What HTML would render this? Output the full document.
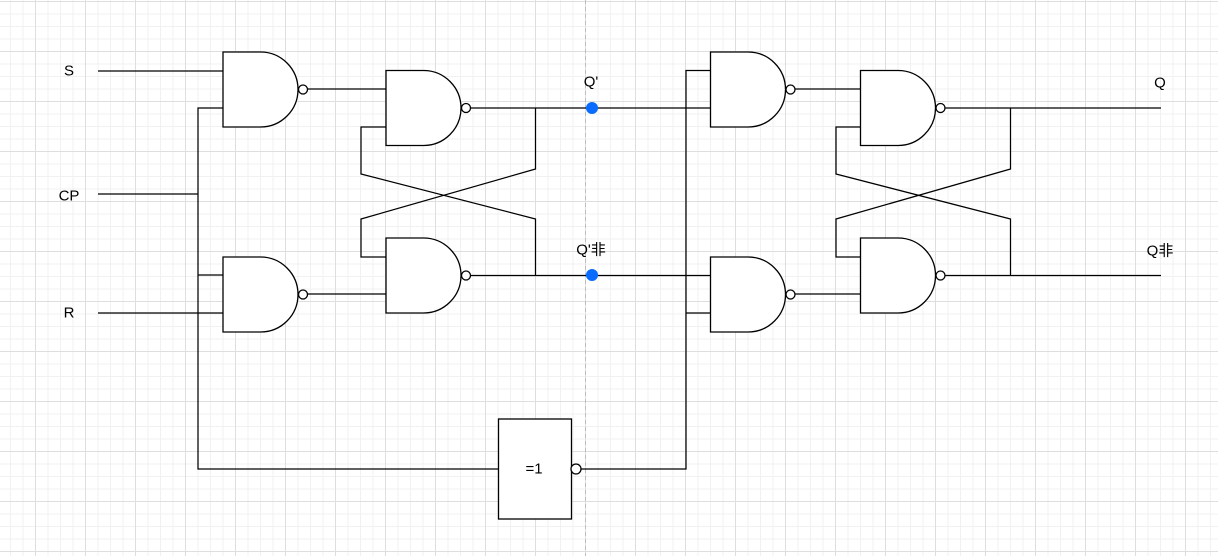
<!DOCTYPE html>
<html><head><meta charset="utf-8"><style>
html,body{margin:0;padding:0;background:#fff;width:1218px;height:556px;overflow:hidden}
svg{display:block}
text{font-family:"Liberation Sans","Noto Sans CJK SC",sans-serif;font-size:15px;fill:#000;text-anchor:middle;dominant-baseline:central}
.w{fill:none;stroke:#000;stroke-width:1.25}
.g{fill:#fff;stroke:#000;stroke-width:1.3}
</style></head><body>
<svg width="1218" height="556" viewBox="0 0 1218 556" xmlns="http://www.w3.org/2000/svg">
<defs>
<pattern id="minor" x="-2.5" y="1" width="12.5" height="12.5" patternUnits="userSpaceOnUse"><path d="M0.5 0V12.5M0 0.5H12.5" fill="none" stroke="#f1f1f1" stroke-width="1"/></pattern>
<pattern id="major" x="35" y="1" width="50" height="50" patternUnits="userSpaceOnUse"><path d="M0.5 0V50M0 0.5H50" fill="none" stroke="#dedede" stroke-width="1"/></pattern>
<g id="nand"><path class="g" d="M0 0H37.5A37.5 37.5 0 0 1 37.5 75H0Z"/><circle class="g" cx="80" cy="37.5" r="4.5"/></g>
</defs>
<rect width="1218" height="556" fill="#fff"/>
<rect width="1218" height="556" fill="url(#minor)"/>
<rect width="1218" height="556" fill="url(#major)"/>
<line x1="585.5" y1="0" x2="585.5" y2="556" stroke="#bdbdbd" stroke-width="1" stroke-dasharray="4 3"/>
<path class="w" d="M98 71H223M98 194H198M98 313H223"/>
<path class="w" d="M223 108H198V469H498M198 275H223"/>
<path class="w" d="M307 89H386M307 294H386"/>
<path class="w" d="M466 108H711M466 275.500H711"/>
<path class="w" d="M386 257H361V219L535.500 169V108M386 127H361V174L535.500 219V275.500"/>
<path class="w" d="M581 469H686V70.500H711M686 313H711"/>
<path class="w" d="M794 89H861M794 294H861"/>
<path class="w" d="M941 108H1161M941 275.500H1161"/>
<path class="w" d="M861 257H836V219L1010.500 169V108M861 127H836V174L1010.500 219V275.500"/>
<use href="#nand" x="223" y="52"/>
<use href="#nand" x="386" y="70.500"/>
<use href="#nand" x="223" y="257"/>
<use href="#nand" x="386" y="238"/>
<use href="#nand" x="710.500" y="52"/>
<use href="#nand" x="860.500" y="70.500"/>
<use href="#nand" x="710.500" y="257"/>
<use href="#nand" x="860.500" y="238"/>
<rect class="g" x="498.500" y="419" width="73" height="100"/>
<circle class="g" cx="576" cy="469" r="5"/>
<circle cx="592" cy="108" r="6" fill="#0a6cff"/>
<circle cx="592" cy="275" r="6" fill="#0a6cff"/>
<text x="69" y="71">S</text>
<text x="69" y="196">CP</text>
<text x="69" y="313">R</text>
<text x="591" y="82">Q'</text>
<text x="591" y="250">Q'非</text>
<text x="1160" y="83">Q</text>
<text x="1160" y="251">Q非</text>
<text x="534" y="469">=1</text>
</svg>
</body></html>
